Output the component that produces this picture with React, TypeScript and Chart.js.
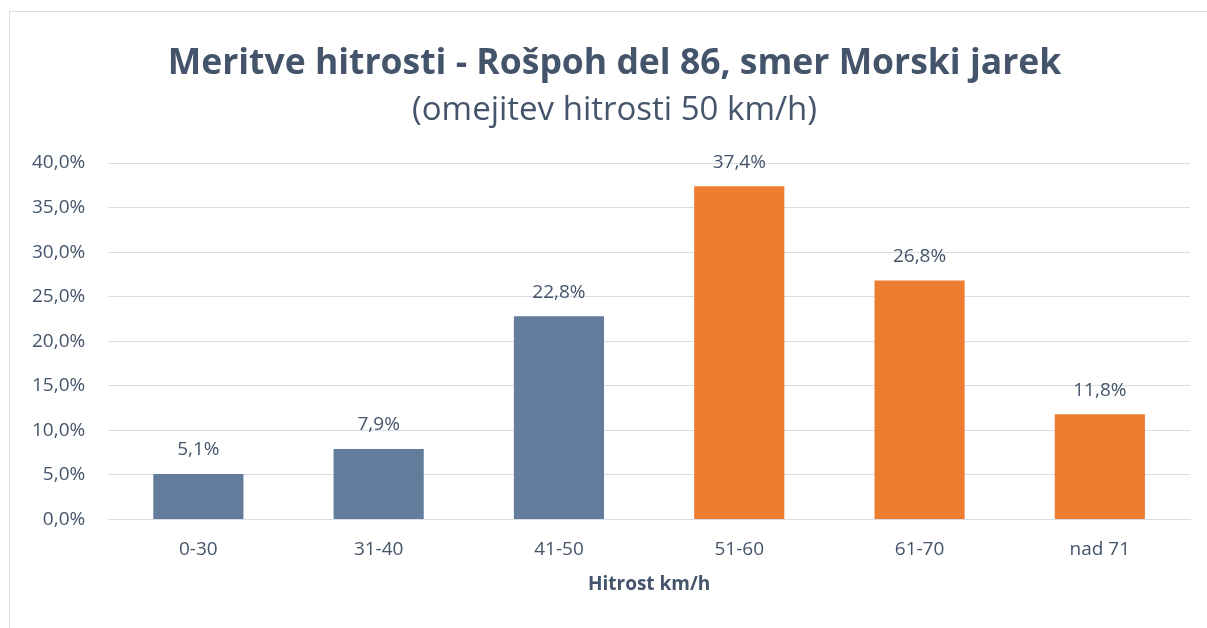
import React, { useEffect, useRef } from "react";
import { Chart, registerables } from "chart.js";

Chart.register(...registerables);

const categories = ["0-30", "31-40", "41-50", "51-60", "61-70", "nad 71"];
const shares = [5.1, 7.9, 22.8, 37.4, 26.8, 11.8];
const barColors = ["#637C9B", "#637C9B", "#637C9B", "#ED7D31", "#ED7D31", "#ED7D31"];
const titleText = "Meritve hitrosti - Rošpoh del 86, smer Morski jarek";
const subtitleText = "(omejitev hitrosti 50 km/h)";
const xAxisTitle = "Hitrost km/h";

const FONT = "'Open Sans', sans-serif";
const TEXT = "#44546A";

const fmt = (v: number) => v.toFixed(1).replace(".", ",") + "%";

const valueLabels = {
  id: "valueLabels",
  afterDatasetsDraw(chart: any) {
    const ctx = chart.ctx;
    const meta = chart.getDatasetMeta(0);
    ctx.save();
    ctx.font = `19px ${FONT}`;
    ctx.fillStyle = TEXT;
    ctx.textAlign = "center";
    ctx.textBaseline = "middle";
    meta.data.forEach((el: any, i: number) => {
      ctx.fillText(fmt(shares[i]), el.x, el.y - 24);
    });
    ctx.restore();
  },
};

const headings = {
  id: "headings",
  afterDraw(chart: any) {
    const ctx = chart.ctx;
    const cx = chart.width / 2 + 11;
    ctx.save();
    ctx.fillStyle = TEXT;
    ctx.textAlign = "center";
    ctx.textBaseline = "middle";
    ctx.font = `bold 35.5px ${FONT}`;
    ctx.fillText(titleText, cx, 64);
    ctx.font = `33px ${FONT}`;
    ctx.fillText(subtitleText, cx, 111);
    ctx.restore();
  },
};

export default function App() {
  const ref = useRef<HTMLCanvasElement>(null);
  useEffect(() => {
    if (!ref.current) return;
    const chart = new Chart(ref.current, {
      type: "bar",
      data: {
        labels: categories,
        datasets: [
          {
            data: shares,
            backgroundColor: barColors,
            barPercentage: 0.5,
            categoryPercentage: 1,
          },
        ],
      },
      options: {
        animation: false,
        responsive: false,
        maintainAspectRatio: false,
        layout: { padding: { top: 163, left: 9, right: 17, bottom: 10 } },
        plugins: {
          legend: { display: false },
          tooltip: { enabled: false },
          title: { display: false },
          subtitle: { display: false },
        },
        scales: {
          x: {
            grid: { display: false, drawTicks: false },
            border: { display: true, color: "#D9DDE3", width: 1 },
            ticks: { color: TEXT, font: { family: FONT, size: 19 }, padding: 19 },
            title: {
              display: true,
              text: xAxisTitle,
              color: TEXT,
              font: { family: FONT, size: 19, weight: "bold", lineHeight: 1.2 },
              padding: { top: -7, bottom: 22 },
            },
          },
          y: {
            min: 0,
            max: 40,
            grid: { color: "#D9DDE3", lineWidth: 1, drawTicks: false },
            border: { display: false },
            ticks: {
              stepSize: 5,
              color: TEXT,
              font: { family: FONT, size: 19 },
              padding: 23,
              callback: (v: any) => fmt(Number(v)),
            },
          },
        },
      },
      plugins: [valueLabels, headings],
    });
    return () => chart.destroy();
  }, []);
  return (
    <div style={{ position: "fixed", left: 0, top: 0, width: 1207, height: 628, overflow: "hidden", background: "#fff" }}>
      <div style={{ position: "absolute", left: 9, top: 11, width: 1400, height: 800, border: "1px solid #D9DDE3" }} />
      <canvas ref={ref} width={1207} height={628} style={{ position: "absolute", left: 0, top: 0 }} />
    </div>
  );
}
